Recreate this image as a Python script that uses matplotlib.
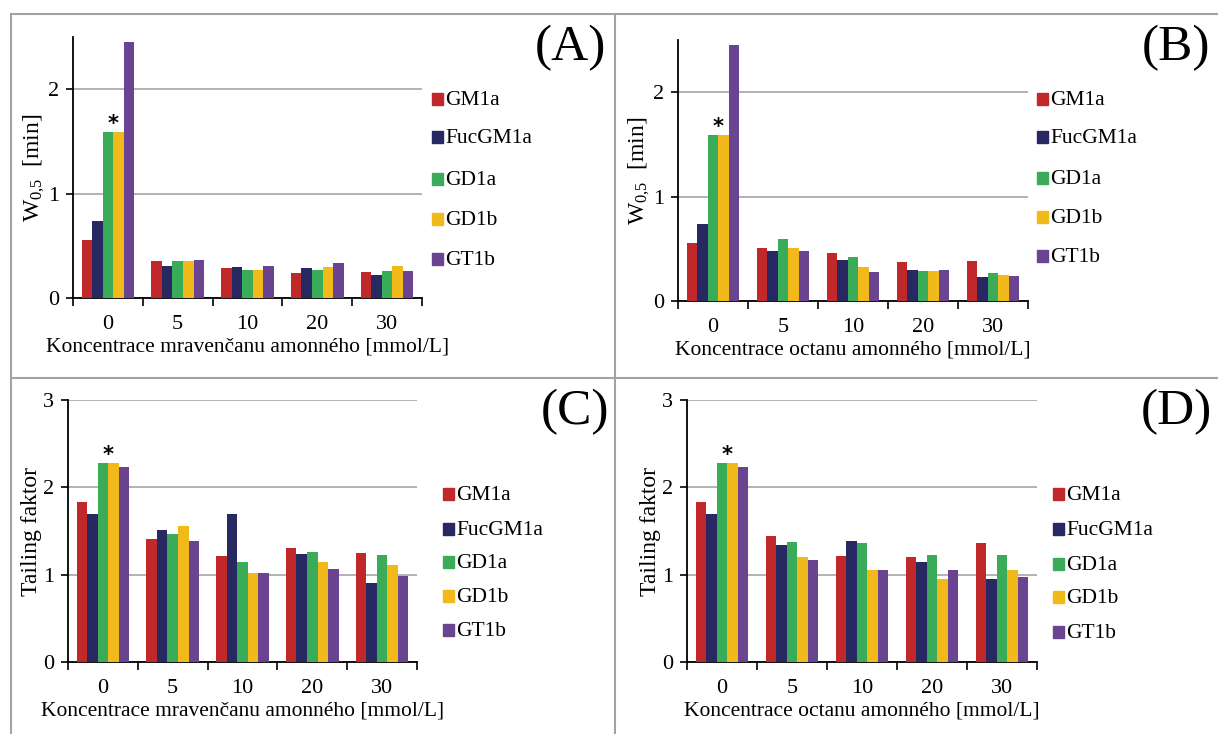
import matplotlib as mpl
mpl.use('Agg')

import numpy as np
import matplotlib.pyplot as plt
from matplotlib.lines import Line2D

plt.rcParams['font.family'] = ['Liberation Serif', 'DejaVu Serif']
plt.rcParams['mathtext.fontset'] = 'custom'
plt.rcParams['mathtext.rm'] = 'Liberation Serif'
plt.rcParams['mathtext.it'] = 'Liberation Serif'

categories = ['0', '5', '10', '20', '30']
series = ['GM1a', 'FucGM1a', 'GD1a', 'GD1b', 'GT1b']
colors = ['#C0282A', '#282862', '#3AAB58', '#F2B91A', '#6A4490']

# W0,5 [min], mravencan amonny
w_formate = [
    [0.56, 0.35, 0.29, 0.24, 0.25],
    [0.74, 0.31, 0.30, 0.29, 0.22],
    [1.59, 0.35, 0.27, 0.27, 0.26],
    [1.59, 0.35, 0.27, 0.30, 0.31],
    [2.45, 0.36, 0.31, 0.34, 0.26],
]
# W0,5 [min], octan amonny
w_acetate = [
    [0.56, 0.51, 0.46, 0.37, 0.38],
    [0.74, 0.48, 0.39, 0.30, 0.23],
    [1.59, 0.59, 0.42, 0.29, 0.27],
    [1.59, 0.51, 0.33, 0.29, 0.25],
    [2.45, 0.48, 0.28, 0.30, 0.24],
]
# Tailing faktor, mravencan amonny
tf_formate = [
    [1.83, 1.41, 1.21, 1.31, 1.25],
    [1.70, 1.51, 1.69, 1.24, 0.90],
    [2.28, 1.46, 1.14, 1.26, 1.23],
    [2.28, 1.56, 1.02, 1.15, 1.11],
    [2.23, 1.39, 1.02, 1.06, 0.99],
]
# Tailing faktor, octan amonny
tf_acetate = [
    [1.83, 1.44, 1.21, 1.20, 1.36],
    [1.70, 1.34, 1.38, 1.14, 0.95],
    [2.28, 1.37, 1.36, 1.22, 1.22],
    [2.28, 1.20, 1.05, 0.95, 1.05],
    [2.23, 1.17, 1.05, 1.05, 0.97],
]

W, H = 1218, 734
fig = plt.figure(figsize=(W / 100, H / 100), dpi=100)


def px_axes(left, top, right, bottom):
    return fig.add_axes([left / W, 1 - bottom / H, (right - left) / W, (bottom - top) / H])


panels = [
    dict(box=(73, 37, 422, 298), data=w_formate, ymax=2.5, yticks=[0, 1, 2],
         ylabel='W$_{0{,}5}$  [min]', xlabel='Koncentrace mravenčanu amonného [mmol/L]',
         tag='(A)', tagpos=(570, 48), legx=432, legy=[99, 137, 179, 219, 259]),
    dict(box=(678, 40, 1028, 301), data=w_acetate, ymax=2.5, yticks=[0, 1, 2],
         ylabel='W$_{0{,}5}$  [min]', xlabel='Koncentrace octanu amonného [mmol/L]',
         tag='(B)', tagpos=(1176, 48), legx=1037, legy=[99, 137, 178, 217, 256]),
    dict(box=(68, 400, 417, 662), data=tf_formate, ymax=3.0, yticks=[0, 1, 2, 3],
         ylabel='Tailing faktor', xlabel='Koncentrace mravenčanu amonného [mmol/L]',
         tag='(C)', tagpos=(575, 412), legx=443, legy=[494, 529, 562, 596, 630]),
    dict(box=(687, 400, 1037, 662), data=tf_acetate, ymax=3.0, yticks=[0, 1, 2, 3],
         ylabel='Tailing faktor', xlabel='Koncentrace octanu amonného [mmol/L]',
         tag='(D)', tagpos=(1176, 412), legx=1053, legy=[494, 529, 564, 597, 632]),
]

x = np.arange(len(categories))
bw = 0.151

for p in panels:
    ax = px_axes(*p['box'])
    for i, (name, vals) in enumerate(zip(series, p['data'])):
        ax.bar(x + (i - 2) * bw, vals, bw, color=colors[i], label=name, zorder=3)
    ax.set_xlim(-0.5, len(categories) - 0.5)
    ax.set_ylim(0, p['ymax'])
    ax.set_yticks(p['yticks'])
    ax.set_xticks(x)
    ax.set_xticklabels(categories)
    ax.set_xticks(np.arange(-0.5, len(categories), 1.0), minor=True)
    ax.tick_params(axis='x', which='major', length=0, pad=12, labelsize=16)
    ax.tick_params(axis='x', which='minor', length=6, width=1.2, direction='out')
    ax.tick_params(axis='y', length=5, width=1.2, labelsize=16, pad=5)
    for s in ['top', 'right']:
        ax.spines[s].set_visible(False)
    ax.spines['left'].set_linewidth(1.3)
    ax.spines['bottom'].set_linewidth(1.3)
    ax.yaxis.grid(True, color='#A6A6A6', linewidth=1.2, zorder=0)
    ax.set_axisbelow(True)
    ax.set_xlabel(p['xlabel'], fontsize=15.5, labelpad=3)
    ax.set_ylabel(p['ylabel'], fontsize=17, labelpad=1)
    # asterisk between GD1a and GD1b in the first group
    top = max(p['data'][2][0], p['data'][3][0])
    ax.annotate('*', (0 + 0.5 * bw, top), xytext=(0, 6), textcoords='offset points',
                ha='center', va='center', fontsize=15, family='DejaVu Sans',
                fontweight='bold')
    fig.text(p['tagpos'][0] / W, 1 - p['tagpos'][1] / H, p['tag'], fontsize=37,
             ha='center', va='center')
    for i, name in enumerate(series):
        yy = 1 - p['legy'][i] / H
        fig.patches.append(plt.Rectangle((p['legx'] / W, yy - 6 / H), 11 / W, 12 / H,
                                         transform=fig.transFigure, color=colors[i]))
        fig.text((p['legx'] + 13) / W, yy - 6 / H, name, fontsize=15.5,
                 va='baseline', ha='left')

# panel frame lines
grey = '#A0A4A8'
fig.add_artist(Line2D([11 / W, 1217 / W], [1 - 14 / H] * 2, color=grey, lw=1.5))
fig.add_artist(Line2D([11 / W] * 2, [0, 1 - 14 / H], color=grey, lw=1.5))
fig.add_artist(Line2D([615 / W] * 2, [0, 1 - 14 / H], color=grey, lw=1.5))
fig.add_artist(Line2D([11 / W, 1217 / W], [1 - 378 / H] * 2, color=grey, lw=1.5))

plt.savefig('out.png', dpi=100)
